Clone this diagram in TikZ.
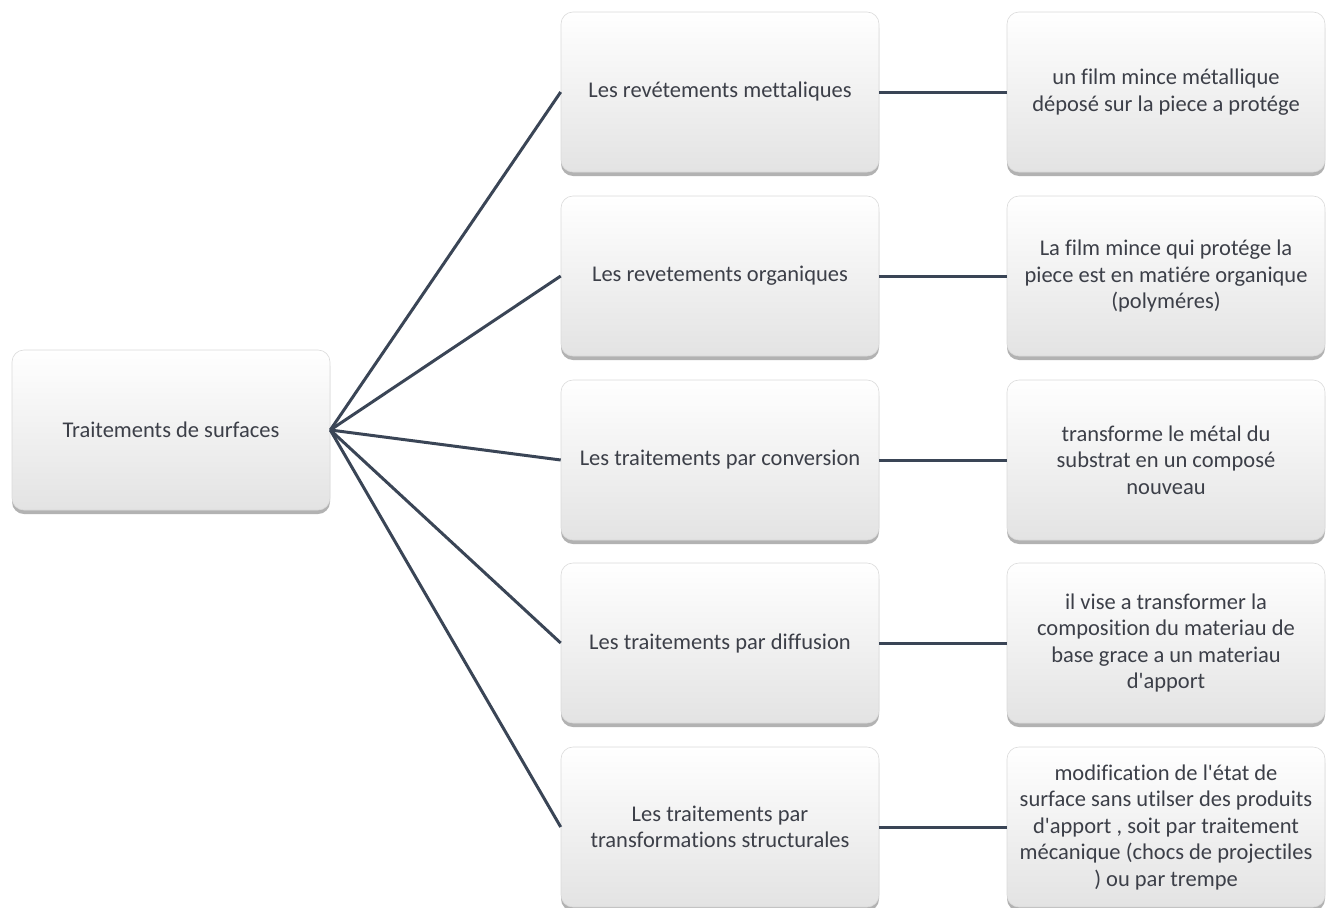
\documentclass[tikz,border=0pt]{standalone}
\usepackage{fontspec}
\setmainfont{Carlito}[Ligatures={TeXOff,NoCommon}]
\usetikzlibrary{shadows}
\definecolor{txt}{HTML}{3C3F48}
\definecolor{lnk}{HTML}{3A4556}
\definecolor{bord}{HTML}{DADADA}
\begin{document}
\begin{tikzpicture}[x=1pt,y=-1pt,
  box/.style={rectangle, rounded corners=12pt, minimum width=318pt, minimum height=160pt,
    draw=bord, line width=0.6pt, top color=white, bottom color=black!11, inner sep=3pt,
    align=center, text=txt, font=\fontsize{22.5}{26.5}\selectfont,
    drop shadow={shadow xshift=0pt, shadow yshift=-4pt, opacity=0.5, fill=black!60}},
  conn/.style={draw=lnk, line width=3pt}]
\useasboundingbox (0,0) rectangle (1329,907);
\node[box] (root) at (171,430) {Traitements de surfaces};
\node[box] (m1) at (720,92) {Les revétements mettaliques};
\node[box] (m2) at (720,276) {Les revetements organiques};
\node[box] (m3) at (720,460) {Les traitements par conversion};
\node[box] (m4) at (720,643) {Les traitements par diffusion};
\node[box] (m5) at (720,827) {Les traitements par\\transformations structurales};
\node[box] (r1) at (1166,92) {un film mince métallique\\déposé sur la piece a protége};
\node[box] (r2) at (1166,276) {La film mince qui protége la\\piece est en matiére organique\\(polyméres)};
\node[box] (r3) at (1166,460) {transforme le métal du\\substrat en un composé\\nouveau};
\node[box] (r4) at (1166,643) {il vise a transformer la\\composition du materiau de\\base grace a un materiau\\d'apport};
\node[box] (r5) at (1166,827) {modification de l'état de\\surface sans utilser des produits\\d'apport , soit par traitement\\mécanique (chocs de projectiles\\) ou par trempe};
\foreach \i in {1,...,5}{
  \draw[conn] (root.east) -- (m\i.west);
  \draw[conn] (m\i.east) -- (r\i.west);
}
\end{tikzpicture}
\end{document}
